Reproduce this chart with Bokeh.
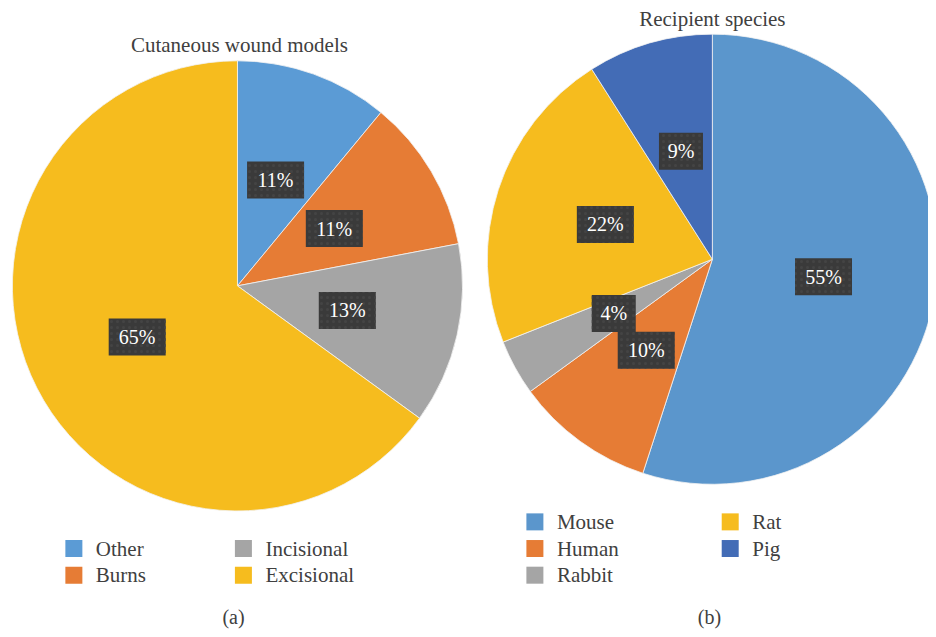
import numpy as np
from bokeh.plotting import figure
from bokeh.models import Range1d
from bokeh.embed import file_html
from bokeh.resources import INLINE
from bokeh.core.properties import value

# ---- data ----
wound_title = "Cutaneous wound models"
wound_labels = ["Other", "Burns", "Incisional", "Excisional"]
wound_values = [11, 11, 13, 65]
wound_colors = ["#5B9BD5", "#E67C35", "#A5A5A5", "#F6BC1E"]

species_title = "Recipient species"
species_labels = ["Mouse", "Human", "Rabbit", "Rat", "Pig"]
species_values = [55, 10, 4, 22, 9]
species_colors = ["#5B96CC", "#E67C35", "#A5A5A5", "#F6BC1E", "#436CB6"]

panel_tags = ["(a)", "(b)"]

FONT = value("Liberation Serif")
TXT = "#404040"

W, H = 928, 629
SX, SY = W / 936.0, H / 637.0

p = figure(width=W, height=H, output_backend="svg", toolbar_location=None,
           x_range=Range1d(0, W), y_range=Range1d(0, H),
           x_axis_location=None, y_axis_location=None, min_border=0)
p.grid.visible = False
p.outline_line_color = None
p.background_fill_color = "white"
p.border_fill_color = "white"


def X(px):
    return px * SX


def Y(py):
    return H - py * SY


def pie(cx, cy, r, labels, values, colors, title, tx, ty,
        leg_x, leg_y, leg_rows, col_dx):
    vals = np.array(values, dtype=float)
    frac = vals / vals.sum()
    cum = np.concatenate([[0], np.cumsum(frac)])
    starts = np.pi / 2 - cum[1:] * 2 * np.pi
    ends = np.pi / 2 - cum[:-1] * 2 * np.pi
    n = len(values)
    rr = r * SX
    p.wedge(x=[X(cx)] * n, y=[Y(cy)] * n, radius=rr, start_angle=list(starts),
            end_angle=list(ends), direction="anticlock", fill_color=colors,
            line_color="#F2F2F2", line_width=0.8)
    mids = np.pi / 2 - (cum[:-1] + frac / 2) * 2 * np.pi
    lx = X(cx) + 0.5 * rr * np.cos(mids)
    ly = Y(cy) + 0.5 * rr * np.sin(mids)
    texts = ["%d%%" % round(v) for v in frac * 100]
    widths = [18 + 13 * len(t) for t in texts]
    p.rect(x=list(lx), y=list(ly), width=widths, height=37,
           fill_color="#3A3A3A", line_color=None,
           hatch_pattern="dot", hatch_color="#444444", hatch_scale=6,
           hatch_weight=1)
    p.text(x=list(lx), y=list(ly), text=texts, text_color="white",
           text_font=FONT, text_font_size="20px", text_align="center",
           text_baseline="middle")
    # title
    p.text(x=[X(tx)], y=[Y(ty)], text=[title], text_color=TXT, text_font=FONT,
           text_font_size="21px", text_align="center", text_baseline="middle")
    # legend
    sx, sy = [], []
    for i in range(n):
        col, row = divmod(i, leg_rows)
        sx.append(X(leg_x + col * col_dx))
        sy.append(Y(leg_y + row * 27))
    p.rect(x=sx, y=sy, width=17, height=17, fill_color=colors, line_color=None)
    p.text(x=[s + 22 for s in sx], y=sy, text=labels, text_color=TXT,
           text_font=FONT, text_font_size="21px", text_align="left",
           text_baseline="middle")


pie(239, 289, 227, wound_labels, wound_values, wound_colors,
    wound_title, 241, 45, 74, 555, 2, 171)
pie(718, 262, 227, species_labels, species_values, species_colors,
    species_title, 718, 19, 539, 528, 3, 197)

p.text(x=[X(235), X(715)], y=[Y(624), Y(624)], text=panel_tags,
       text_color=TXT, text_font=FONT, text_font_size="20px",
       text_align="center", text_baseline="middle")

open("out.html", "w").write(file_html(p, INLINE))
